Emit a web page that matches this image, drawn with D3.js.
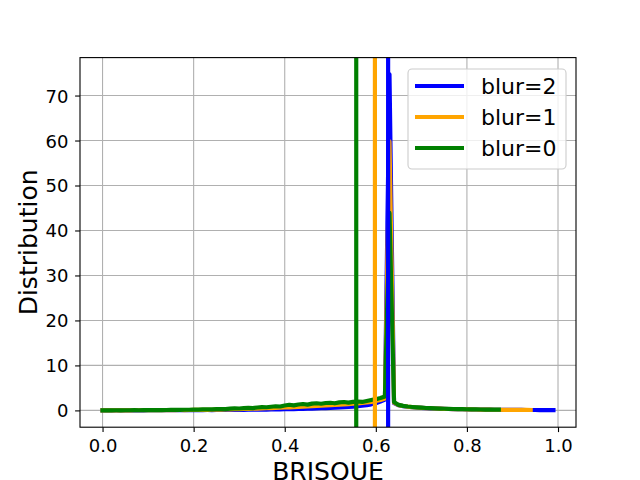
<!DOCTYPE html>
<html><head><meta charset="utf-8">
<script src="https://cdn.jsdelivr.net/npm/d3@7"></script>
<style>body{margin:0;background:#fff}svg{display:block}text{font-family:"DejaVu Sans",sans-serif}</style>
</head><body>
<svg id="c" width="640" height="480"></svg>
<script>
const seriesNames = ["blur=2","blur=1","blur=0"];
const seriesColors = ["#0000ff","#ffa500","#008000"];
const blur2 = [0.00,0.00,0.01,0.01,0.01,0.01,0.02,0.02,0.02,0.02,
0.03,0.03,0.03,0.04,0.04,0.04,0.05,0.05,0.05,0.06,
0.06,0.07,0.07,0.08,0.08,0.09,0.09,0.10,0.11,0.11,
0.12,0.13,0.14,0.15,0.16,0.17,0.18,0.20,0.21,0.23,
0.25,0.27,0.29,0.31,0.34,0.37,0.40,0.43,0.47,0.51,
0.56,0.60,0.65,0.71,0.77,0.85,0.94,1.05,1.18,1.35,
1.60,1.95,2.40,74.7,1.60,1.15,0.95,0.82,0.72,0.64,
0.57,0.51,0.46,0.42,0.38,0.35,0.32,0.29,0.27,0.25,
0.23,0.21,0.20,0.18,0.17,0.16,0.15,0.14,0.13,0.12,
0.11,0.10,0.10,0.09,0.09,0.08,0.07,0.07,0.06,0.06];
const blur1 = [0.00,0.01,0.01,0.01,0.02,0.02,0.02,0.03,0.03,0.03,
0.04,0.04,0.05,0.05,0.06,0.06,0.07,0.08,0.08,0.09,
0.10,0.11,0.12,0.13,0.15,0.16,0.18,0.20,0.22,0.25,
0.28,0.31,0.34,0.37,0.40,0.43,0.47,0.51,0.55,0.60,
0.65,0.69,0.73,0.78,0.83,0.88,0.93,0.98,1.04,1.10,
1.16,1.22,1.28,1.34,1.40,1.47,1.55,1.64,1.75,1.90,
2.08,2.30,2.65,59.8,1.70,1.18,0.97,0.83,0.73,0.65,
0.58,0.52,0.47,0.43,0.39,0.35,0.32,0.30,0.27,0.25,
0.23,0.22,0.20,0.19,0.17,0.16,0.15,0.14,0.13,0.12,
0.12,0.11,0.10,0.10,0.09];
const blur0 = [0.01,0.02,0.02,0.03,0.02,0.04,0.03,0.05,0.04,0.06,
0.06,0.05,0.08,0.07,0.09,0.11,0.10,0.13,0.15,0.14,
0.18,0.16,0.21,0.24,0.22,0.28,0.32,0.30,0.38,0.44,
0.42,0.50,0.56,0.52,0.64,0.74,0.70,0.82,0.92,0.86,
1.08,1.25,1.12,1.30,1.42,1.28,1.50,1.58,1.48,1.64,
1.70,1.58,1.78,1.86,1.72,1.90,1.98,1.88,2.10,2.30,
2.50,2.75,3.10,43.9,1.85,1.22,1.00,0.86,0.76,0.68,
0.60,0.54,0.49,0.45,0.41,0.37,0.34,0.31,0.29,0.27,
0.25,0.23,0.21,0.20,0.19,0.18,0.17,0.16];
const binStep = 0.01;
const vlineValues = [0.627, 0.598, 0.557];
const xTicks = [0.0,0.2,0.4,0.6,0.8,1.0];
const yTicks = [0,10,20,30,40,50,60,70];
const xLabel = "BRISQUE", yLabel = "Distribution";

const series = [blur2, blur1, blur0].map(arr => arr.map((v,i)=>({x:+(i*binStep).toFixed(2), y:v})));

const L=80, R=576, T=57.6, B=427.2;
const svg = d3.select("#c");
const allPts = series.flat();
const xmin = d3.min(allPts,d=>d.x), xmax = d3.max(allPts,d=>d.x);
const ymin = d3.min(allPts,d=>d.y), ymax = d3.max(allPts,d=>d.y);
const xm = (xmax-xmin)*0.05, ym=(ymax-ymin)*0.05;
const x = d3.scaleLinear().domain([xmin-xm, xmax+xm]).range([L,R]);
const y = d3.scaleLinear().domain([ymin-ym, ymax+ym]).range([B,T]);

svg.append("defs").append("clipPath").attr("id","clip")
  .append("rect").attr("x",L).attr("y",T).attr("width",R-L).attr("height",B-T);

// grid
const g = svg.append("g");
g.selectAll(".gx").data(xTicks).enter().append("line")
  .attr("x1",d=>x(d)).attr("x2",d=>x(d)).attr("y1",T).attr("y2",B)
  .attr("stroke","#b0b0b0").attr("stroke-width",1.1);
g.selectAll(".gy").data(yTicks).enter().append("line")
  .attr("y1",d=>y(d)).attr("y2",d=>y(d)).attr("x1",L).attr("x2",R)
  .attr("stroke","#b0b0b0").attr("stroke-width",1.1);

const plot = svg.append("g").attr("clip-path","url(#clip)");
const line = d3.line().x(d=>x(d.x)).y(d=>y(d.y));
series.forEach((s,i)=>{
  plot.append("path").datum(s).attr("d",line).attr("fill","none")
    .attr("stroke",seriesColors[i]).attr("stroke-width",4.17)
    .attr("stroke-linejoin","round").attr("stroke-linecap","square");
});
vlineValues.forEach((v,i)=>{
  plot.append("line").attr("x1",x(v)).attr("x2",x(v)).attr("y1",T).attr("y2",B)
    .attr("stroke",seriesColors[i]).attr("stroke-width",4.17);
});

// axes
const xAxis = d3.axisBottom(x).tickValues(xTicks).tickFormat(d3.format(".1f")).tickSize(4.9).tickPadding(4.9);
const yAxis = d3.axisLeft(y).tickValues(yTicks).tickFormat(d3.format("d")).tickSize(4.9).tickPadding(4.9);
const gx = svg.append("g").attr("transform",`translate(0,${B})`).call(xAxis);
const gy = svg.append("g").attr("transform",`translate(${L},0)`).call(yAxis);
[gx,gy].forEach(a=>{
  a.select(".domain").remove();
  a.selectAll(".tick line").attr("stroke","#000").attr("stroke-width",1.1);
  a.selectAll(".tick text").attr("font-size","18px").attr("fill","#000").attr("font-family","DejaVu Sans");
});
gx.selectAll(".tick text").attr("dy",null).attr("y",24.5);
gy.selectAll(".tick text").attr("dy","0.36em").attr("x",-11.5);

// spines
svg.append("rect").attr("x",L).attr("y",T).attr("width",R-L).attr("height",B-T)
  .attr("fill","none").attr("stroke","#000").attr("stroke-width",1.1);

// labels
svg.append("text").attr("x",(L+R)/2).attr("y",480).attr("text-anchor","middle")
  .attr("font-size","25px").text(xLabel);
svg.append("text").attr("transform",`translate(37,${(T+B)/2}) rotate(-90)`).attr("text-anchor","middle")
  .attr("font-size","25px").text(yLabel);

// legend
const lg = svg.append("g");
lg.append("rect").attr("x",408).attr("y",69).attr("width",158).attr("height",100).attr("rx",4)
  .attr("fill","#fff").attr("fill-opacity",0.8).attr("stroke","#cccccc").attr("stroke-width",1.1);
seriesNames.forEach((n,i)=>{
  const yy = 86 + i*31;
  lg.append("line").attr("x1",415).attr("x2",464).attr("y1",yy).attr("y2",yy)
    .attr("stroke",seriesColors[i]).attr("stroke-width",4.17);
  lg.append("text").attr("x",481).attr("y",yy+8).attr("font-size","22px").text(n);
});
</script>
</body></html>
